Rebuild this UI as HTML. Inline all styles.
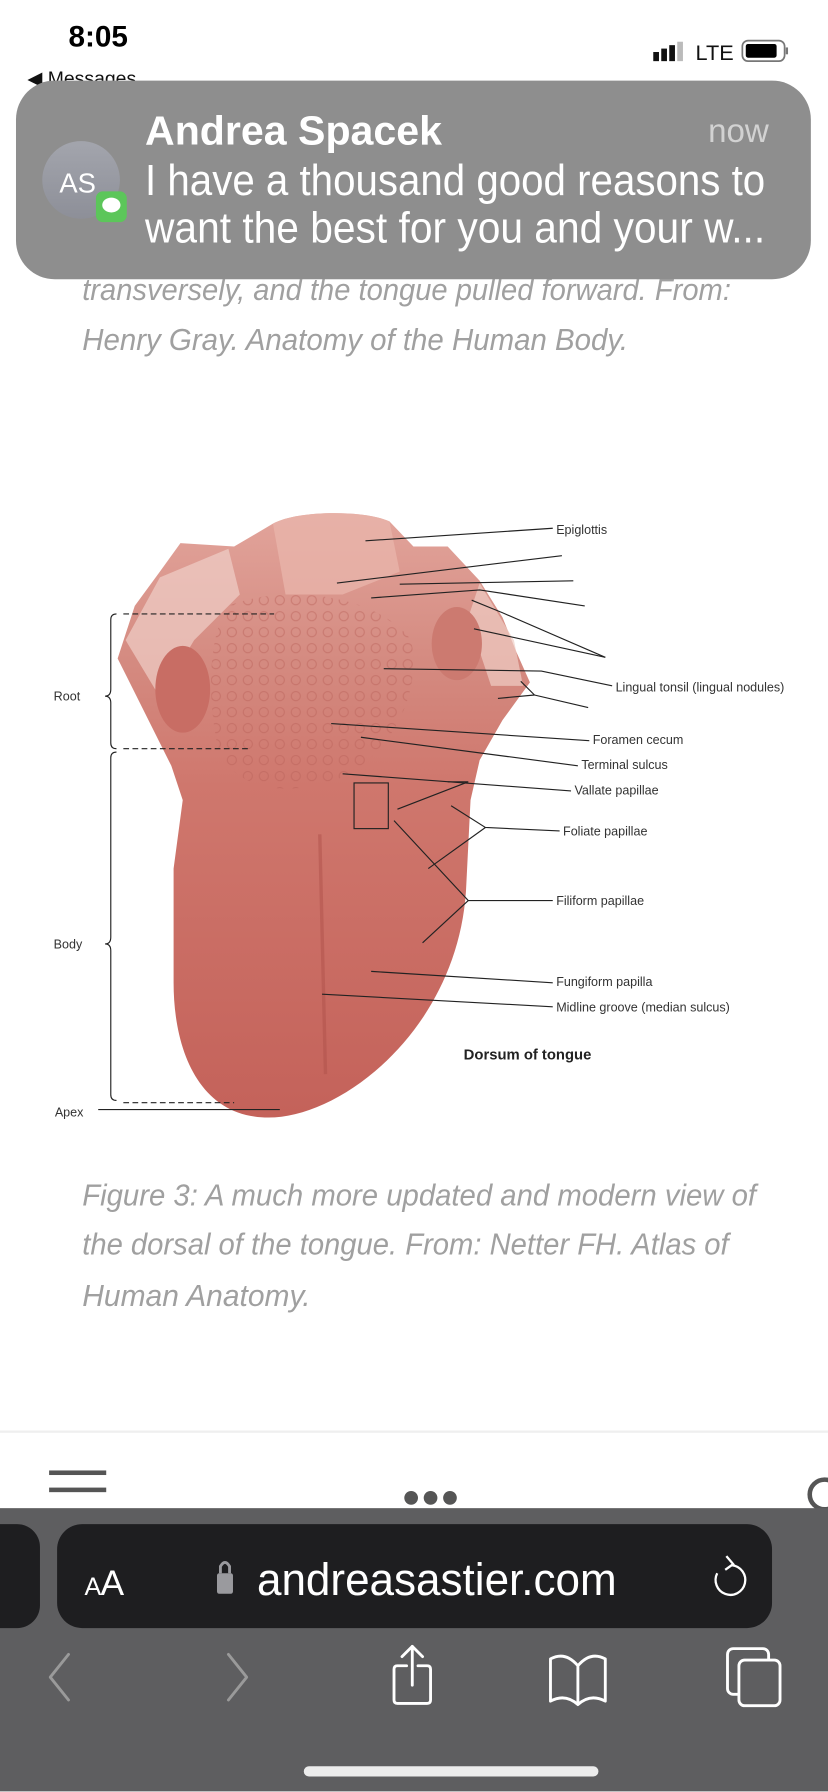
<!DOCTYPE html>
<html><head><meta charset="utf-8"><style>
html,body{margin:0;padding:0;background:#fff;width:828px;height:1792px;overflow:hidden}
svg{display:block}
</style></head><body>
<svg width="828" height="1792" viewBox="0 0 725 1568" xmlns="http://www.w3.org/2000/svg" font-family="Liberation Sans, sans-serif">
<defs>
<linearGradient id="tg" x1="0" y1="0" x2="0" y2="1">
<stop offset="0" stop-color="#e2a49b"/><stop offset="0.25" stop-color="#d48a80"/><stop offset="0.45" stop-color="#cf776d"/><stop offset="1" stop-color="#c4625a"/>
</linearGradient>
<linearGradient id="av" x1="0" y1="0" x2="0" y2="1"><stop offset="0" stop-color="#a3a5ad"/><stop offset="1" stop-color="#8d8f98"/></linearGradient>
<pattern id="dots" width="14" height="14" patternUnits="userSpaceOnUse"><circle cx="7" cy="7" r="4" fill="none" stroke="#b9625a" stroke-width="1" opacity="0.5"/></pattern>
</defs>
<rect width="725" height="1568" fill="#fff"/>

<!-- status bar -->
<text x="60" y="40" font-size="26" font-weight="bold" fill="#000">8:05</text>
<rect x="572" y="45" width="5" height="8" fill="#111"/><rect x="579" y="42" width="5" height="11" fill="#111"/><rect x="586" y="39" width="5" height="14" fill="#111"/><rect x="593" y="36" width="5" height="17" fill="#bbb"/>
<text x="609" y="52" font-size="19" fill="#111">LTE</text>
<rect x="650" y="35" width="37" height="18" rx="5" fill="none" stroke="#777" stroke-width="1.5"/><rect x="653" y="38" width="27" height="12" rx="2" fill="#000"/><rect x="688" y="41" width="2" height="6" fill="#777"/>
<text x="24" y="74" font-size="17" fill="#111">◀ Messages</text>

<!-- caption above -->
<g font-style="italic" fill="#a0a0a0" font-size="27">
<text x="72" y="262" textLength="568" lengthAdjust="spacingAndGlyphs">transversely, and the tongue pulled forward. From:</text>
<text x="72" y="306" textLength="478" lengthAdjust="spacingAndGlyphs">Henry Gray. Anatomy of the Human Body.</text>
</g>

<!-- notification -->
<rect x="14" y="70" width="696" height="174" rx="34" fill="#8e8e8e"/>
<circle cx="71" cy="157" r="34" fill="url(#av)"/>
<text x="52" y="168" font-size="24" fill="#fff">AS</text>
<rect x="84" y="167" width="27" height="27" rx="6" fill="#5cc65a"/>
<ellipse cx="97.5" cy="179" rx="8" ry="6.5" fill="#fff"/>
<text x="127" y="126" font-size="36" font-weight="bold" fill="#fff" textLength="260" lengthAdjust="spacingAndGlyphs">Andrea  Spacek</text>
<text x="620" y="124" font-size="29" fill="#d2d2d2">now</text>
<text x="127" y="170" font-size="38" fill="#fff" textLength="543" lengthAdjust="spacingAndGlyphs">I have a thousand good reasons to</text>
<text x="127" y="212" font-size="38" fill="#fff" textLength="543" lengthAdjust="spacingAndGlyphs">want the best for you and your w...</text>

<!-- tongue -->
<path d="M239,458 C260,446 320,446 341,456 L362,478 L392,478 L420,508 L440,540 L452,570 L464,597 L440,630 L420,665 L412,700 L408,780 C400,900 300,978 235,978 C175,978 152,920 152,860 L152,760 L160,700 L150,670 L130,630 L103,576 L118,530 L140,500 L158,475 L205,478 Z" fill="url(#tg)"/>
<path d="M239,458 C260,446 320,446 341,456 L350,500 L300,520 L250,520 Z" fill="#e9b4aa" opacity="0.8"/>
<path d="M110,560 L140,505 L200,480 L210,520 L170,560 L140,610 Z" fill="#f0cfc8" opacity="0.7"/>
<path d="M420,510 L450,560 L458,600 L430,600 L410,540 Z" fill="#efcdc5" opacity="0.7"/>
<ellipse cx="160" cy="603" rx="24" ry="38" fill="#c86d64"/>
<ellipse cx="400" cy="563" rx="22" ry="32" fill="#cc7a70"/>
<path d="M200,530 C250,510 330,520 360,560 C370,610 340,660 300,680 C250,700 200,690 190,650 C180,600 185,550 200,530 Z" fill="url(#dots)"/>
<path d="M280,730 L285,940" stroke="#b0524b" stroke-width="3" opacity="0.5"/>

<!-- leader lines -->
<g stroke="#222" stroke-width="1" fill="none">
<path d="M320,473 L484,462"/>
<path d="M295,510 L492,486"/>
<path d="M350,511 L502,508"/>
<path d="M325,523 L420,516 L512,530"/>
<path d="M413,525 L440,536 L530,575"/>
<path d="M415,550 L530,575"/>
<path d="M336,585 L474,587 L536,600"/>
<path d="M456,596 L468,608 L515,619"/>
<path d="M436,611 L468,608"/>
<path d="M290,633 L516,648"/>
<path d="M316,645 L506,670"/>
<path d="M300,677 L500,692"/>
<rect x="310" y="685" width="30" height="40"/>
<path d="M348,708 L410,684 L392,684"/>
<path d="M395,705 L425,724 L490,727"/>
<path d="M375,760 L425,724"/>
<path d="M345,718 L410,788 L484,788"/>
<path d="M370,825 L410,788"/>
<path d="M325,850 L484,860"/>
<path d="M282,870 L484,881"/>
<path d="M86,971 L245,971"/>
<path d="M108,537 L240,537" stroke-dasharray="5,3"/>
<path d="M108,655 L220,655" stroke-dasharray="5,3"/>
<path d="M108,965 L205,965" stroke-dasharray="5,3"/>
<path d="M102,537 Q97,537 97,542 L97,603 Q97,609 92,609 Q97,609 97,615 L97,650 Q97,655 102,655"/>
<path d="M102,658 Q97,658 97,663 L97,820 Q97,826 92,826 Q97,826 97,832 L97,958 Q97,963 102,963"/>
</g>
<g font-size="11" fill="#333">
<text x="487" y="467">Epiglottis</text>
<text x="539" y="605">Lingual tonsil (lingual nodules)</text>
<text x="519" y="651">Foramen cecum</text>
<text x="509" y="673">Terminal sulcus</text>
<text x="503" y="695">Vallate papillae</text>
<text x="493" y="731">Foliate papillae</text>
<text x="487" y="792">Filiform papillae</text>
<text x="487" y="863">Fungiform papilla</text>
<text x="487" y="885">Midline groove (median sulcus)</text>
<text x="47" y="613">Root</text>
<text x="47" y="830">Body</text>
<text x="48" y="977">Apex</text>
</g>
<text x="406" y="927" font-size="13" font-weight="bold" fill="#222">Dorsum of tongue</text>

<!-- figure caption -->
<g font-style="italic" fill="#a0a0a0" font-size="27">
<text x="72" y="1055" textLength="590" lengthAdjust="spacingAndGlyphs">Figure 3: A much more updated and modern view of</text>
<text x="72" y="1098" textLength="566" lengthAdjust="spacingAndGlyphs">the dorsal of the tongue. From: Netter FH. Atlas of</text>
<text x="72" y="1143" textLength="200" lengthAdjust="spacingAndGlyphs">Human Anatomy.</text>
</g>

<rect x="0" y="1252" width="725" height="2" fill="#efefef"/>
<g fill="#555"><rect x="43" y="1287" width="50" height="4"/><rect x="43" y="1302" width="50" height="4"/>
<circle cx="360" cy="1311" r="6"/><circle cx="377" cy="1311" r="6"/><circle cx="394" cy="1311" r="6"/></g>
<circle cx="722" cy="1308" r="13" fill="none" stroke="#555" stroke-width="4"/>

<!-- toolbar -->
<rect x="0" y="1320" width="725" height="248" fill="#5e5e60"/>
<rect x="-20" y="1334" width="55" height="91" rx="20" fill="#1e1e20"/>
<rect x="50" y="1334" width="626" height="91" rx="22" fill="#1e1e20"/>
<text x="74" y="1396" font-size="22" fill="#fff">A</text><text x="88" y="1396" font-size="31" fill="#fff">A</text>
<rect x="190" y="1377" width="14" height="18" rx="2" fill="#9a9a9e"/>
<path d="M193,1377 L193,1371 Q197,1364 201,1371 L201,1377" fill="none" stroke="#9a9a9e" stroke-width="2.5"/>
<text x="225" y="1396" font-size="40" fill="#fff" textLength="315" lengthAdjust="spacingAndGlyphs">andreasastier.com</text>
<path d="M628,1377 A13,13 0 1 0 641,1370" fill="none" stroke="#fff" stroke-width="2"/>
<path d="M636,1362 L642,1369 L635,1374" fill="none" stroke="#fff" stroke-width="2"/>
<g fill="none" stroke-width="2.5" stroke-linecap="round" stroke-linejoin="round">
<path d="M60,1448 L44,1468 L60,1488" stroke="#9a9a9a"/>
<path d="M200,1448 L216,1468 L200,1488" stroke="#9a9a9a"/>
<path d="M356,1458 L348,1458 Q345,1458 345,1461 L345,1488 Q345,1491 348,1491 L374,1491 Q377,1491 377,1488 L377,1461 Q377,1458 374,1458 L366,1458" stroke="#fff"/>
<path d="M361,1475 L361,1441 M352,1450 L361,1441 L370,1450" stroke="#fff"/>
<path d="M506,1458 Q495,1445 482,1452 L482,1489 Q495,1482 506,1492 Q517,1482 530,1489 L530,1452 Q517,1445 506,1458 L506,1490" stroke="#fff"/>
<rect x="637" y="1443" width="36" height="40" rx="5" stroke="#fff"/>
<rect x="647" y="1453" width="36" height="40" rx="5" stroke="#fff" fill="#5e5e60"/>
</g>
<rect x="266" y="1546" width="258" height="9" rx="4.5" fill="#ececec"/>
</svg>
</body></html>
